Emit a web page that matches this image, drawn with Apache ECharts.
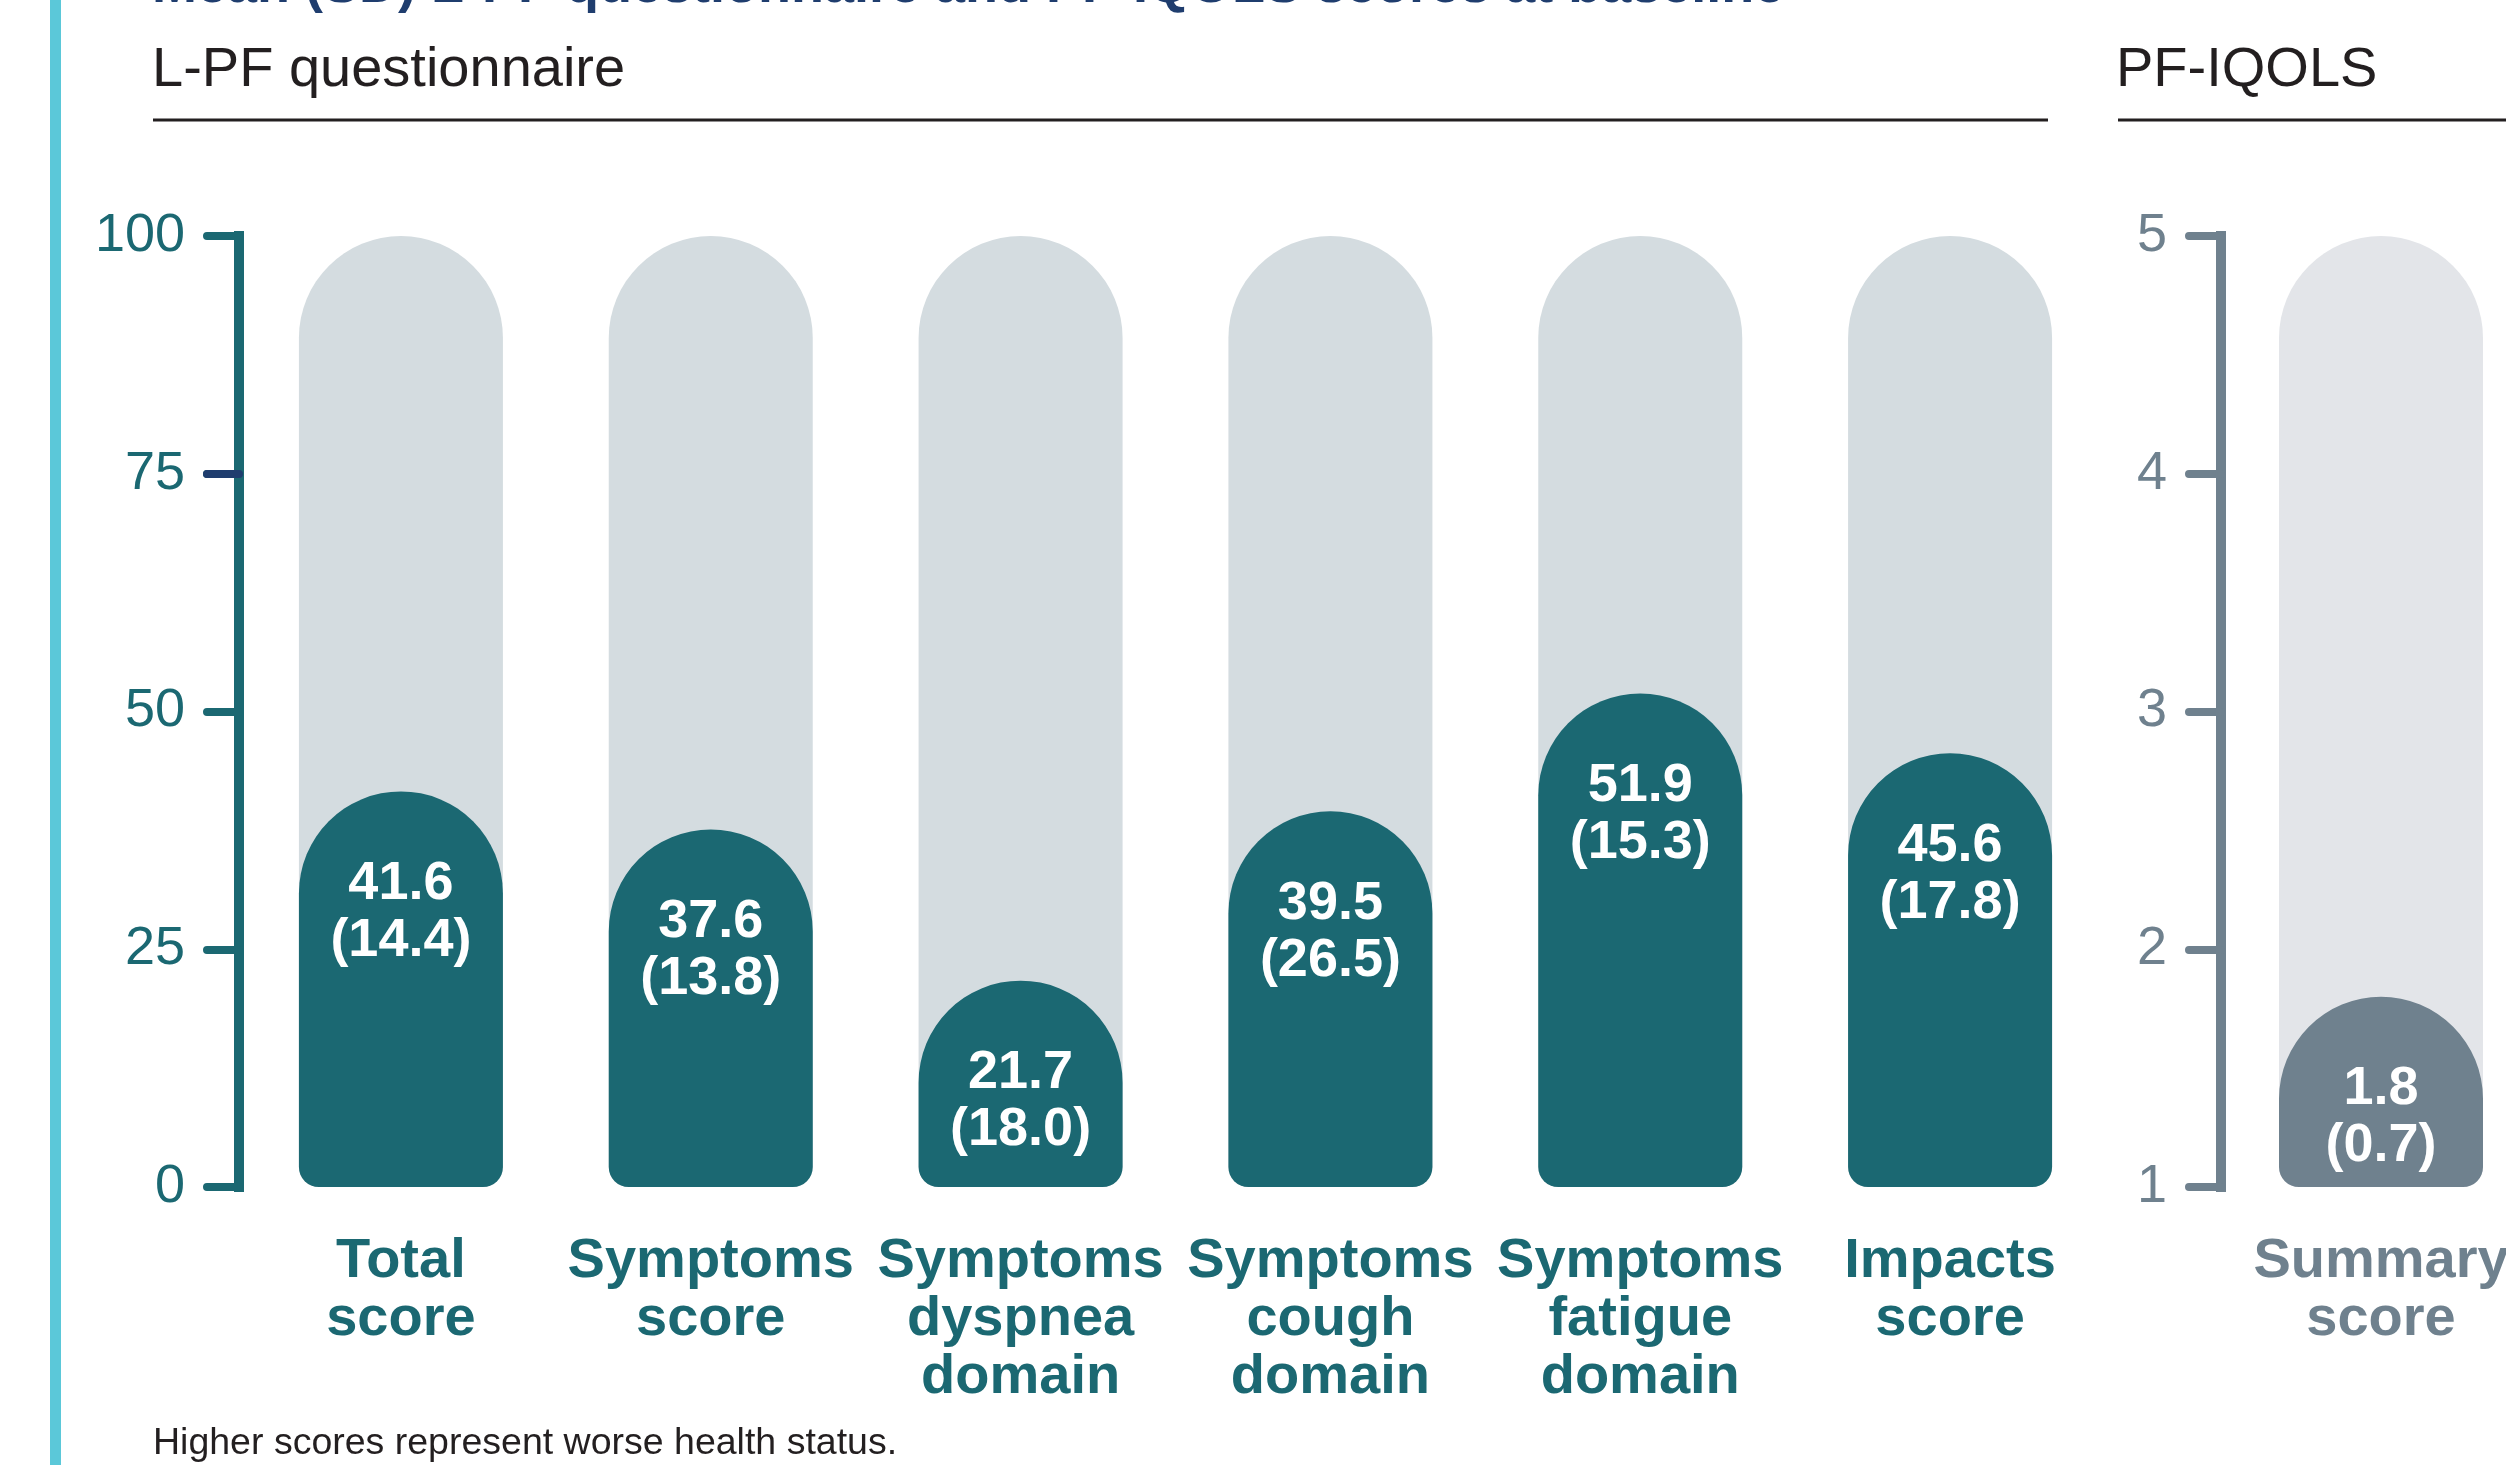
<!DOCTYPE html>
<html>
<head>
<meta charset="utf-8">
<script src="https://cdn.jsdelivr.net/npm/echarts@6/dist/echarts.min.js"></script>
<style>
html,body{margin:0;padding:0;background:#fff;}
#chart{width:2506px;height:1465px;}
</style>
</head>
<body>
<div id="chart"></div>
<script>
// ---- Data ----
const lpfCategories = ['Total\nscore', 'Symptoms\nscore', 'Symptoms\ndyspnea\ndomain', 'Symptoms\ncough\ndomain', 'Symptoms\nfatigue\ndomain', 'Impacts\nscore'];
const lpfMeans = [41.6, 37.6, 21.7, 39.5, 51.9, 45.6];
const lpfSDs = [14.4, 13.8, 18.0, 26.5, 15.3, 17.8];
const iqolsCategories = ['Summary\nscore'];
const iqolsMeans = [1.8];
const iqolsSDs = [0.7];
const lpfTickMin = 0, lpfTickMax = 100, lpfTickStep = 25;
const iqolsTickMin = 1, iqolsTickMax = 5, iqolsTickStep = 1;
const titleText = 'Mean (SD) L-PF questionnaire and PF-IQOLS scores at baseline';
const leftHeader = 'L-PF questionnaire';
const rightHeader = 'PF-IQOLS';
const footnote = 'Higher scores represent worse health status.';

// ---- Style ----
const FONT = '"Liberation Sans", Arial, Helvetica, sans-serif';
const TEAL = '#1b6872';
const TEAL_BG = '#d4dce0';
const SLATE = '#6f818e';
const SLATE_BG = '#e3e5e9';
const NAVY = '#1f3d6e';
const INK = '#231f20';

const chart = echarts.init(document.getElementById('chart'), null, {renderer: 'canvas'});

function fmt(v) { return v.toFixed(1); }

const gridTop = 236, gridH = 951;

const option = {
  backgroundColor: '#ffffff',
  animation: false,
  grid: [
    {left: 246, top: gridTop, width: 1859, height: gridH, containLabel: false, outerBoundsMode: 'none'},
    {left: 2226, top: gridTop, width: 310, height: gridH, containLabel: false, outerBoundsMode: 'none'}
  ],
  xAxis: [
    {
      type: 'category', gridIndex: 0, data: lpfCategories,
      axisLine: {show: false}, axisTick: {show: false},
      axisLabel: {margin: 46, color: TEAL, fontFamily: FONT, fontWeight: 'bold', fontSize: 56, lineHeight: 58, interval: 0}
    },
    {
      type: 'category', gridIndex: 1, data: iqolsCategories,
      axisLine: {show: false}, axisTick: {show: false},
      axisLabel: {margin: 46, color: SLATE, fontFamily: FONT, fontWeight: 'bold', fontSize: 56, lineHeight: 58, interval: 0}
    }
  ],
  yAxis: [
    {
      type: 'value', gridIndex: 0, min: lpfTickMin, max: lpfTickMax, interval: lpfTickStep,
      offset: 7,
      splitLine: {show: false},
      axisLine: {show: true, lineStyle: {color: TEAL, width: 10, cap: 'square'}},
      axisTick: {show: true, length: 32, lineStyle: {color: TEAL, width: 8, cap: 'round'}},
      axisLabel: {margin: 54, color: TEAL, fontFamily: FONT, fontSize: 54}
    },
    {
      type: 'value', gridIndex: 0, min: lpfTickMin, max: lpfTickMax, interval: lpfTickStep,
      offset: 7, position: 'left',
      splitLine: {show: false},
      axisLine: {show: false},
      axisTick: {show: true, customValues: [75], length: 32, lineStyle: {color: NAVY, width: 8, cap: 'round'}},
      axisLabel: {show: false}
    },
    {
      type: 'value', gridIndex: 1, min: iqolsTickMin, max: iqolsTickMax, interval: iqolsTickStep,
      startValue: iqolsTickMin,
      offset: 5,
      splitLine: {show: false},
      axisLine: {show: true, lineStyle: {color: SLATE, width: 10, cap: 'square'}},
      axisTick: {show: true, length: 32, lineStyle: {color: SLATE, width: 8, cap: 'round'}},
      axisLabel: {margin: 54, color: SLATE, fontFamily: FONT, fontSize: 54}
    }
  ],
  series: [
    {
      type: 'bar', xAxisIndex: 0, yAxisIndex: 0, data: lpfMeans, barWidth: 204,
      showBackground: true,
      backgroundStyle: {color: TEAL_BG, borderRadius: [102, 102, 20, 20]},
      itemStyle: {color: TEAL, borderRadius: [102, 102, 20, 20]},
      label: {
        show: true, position: 'insideTop', distance: 64,
        formatter: p => fmt(p.value) + '\n(' + fmt(lpfSDs[p.dataIndex]) + ')',
        color: '#ffffff', fontFamily: FONT, fontWeight: 'bold', fontSize: 54, lineHeight: 57
      }
    },
    {
      type: 'bar', xAxisIndex: 1, yAxisIndex: 2, data: iqolsMeans, barWidth: 204,
      showBackground: true,
      backgroundStyle: {color: SLATE_BG, borderRadius: [102, 102, 20, 20]},
      itemStyle: {color: SLATE, borderRadius: [102, 102, 20, 20]},
      label: {
        show: true, position: 'insideTop', distance: 64,
        formatter: p => fmt(p.value) + '\n(' + fmt(iqolsSDs[p.dataIndex]) + ')',
        color: '#ffffff', fontFamily: FONT, fontWeight: 'bold', fontSize: 54, lineHeight: 57
      }
    }
  ],
  graphic: [
    {type: 'rect', left: 50, top: 0, shape: {width: 11, height: 1465}, style: {fill: '#5bc8d9'}, silent: true},
    {type: 'text', x: 152, y: 14, style: {text: titleText, fill: NAVY, font: 'bold 54px ' + FONT, textVerticalAlign: 'bottom', verticalAlign: 'bottom'}, silent: true},
    {type: 'text', x: 152, y: 71, style: {text: leftHeader, fill: INK, font: '56px ' + FONT, verticalAlign: 'middle'}, silent: true},
    {type: 'line', shape: {x1: 153, y1: 120, x2: 2048, y2: 120}, style: {stroke: INK, lineWidth: 3}, silent: true},
    {type: 'text', x: 2116, y: 71, style: {text: rightHeader, fill: INK, font: '56px ' + FONT, verticalAlign: 'middle'}, silent: true},
    {type: 'line', shape: {x1: 2118, y1: 120, x2: 2506, y2: 120}, style: {stroke: INK, lineWidth: 3}, silent: true},
    {type: 'text', x: 153, y: 1444, style: {text: footnote, fill: INK, font: '37.5px ' + FONT, verticalAlign: 'middle'}, silent: true}
  ]
};
chart.setOption(option);
</script>
</body>
</html>
